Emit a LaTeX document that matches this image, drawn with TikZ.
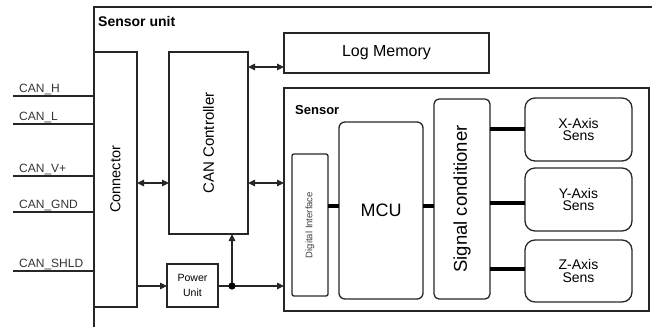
\documentclass[tikz,border=0pt]{standalone}
\usepackage{fontspec}
\setmainfont{Liberation Sans}
\usetikzlibrary{arrows.meta,calc}
\tikzset{
  box/.style={draw=black!85, line width=1.3pt, inner sep=0pt, outer sep=0pt, align=center},
  rbox/.style={box, rounded corners=6pt},
  wire/.style={line width=1.2pt, black!85},
  sig/.style={wire, -{Triangle[length=7pt,width=6.5pt]}},
  dsig/.style={wire, {Triangle[length=7pt,width=6.5pt]}-{Triangle[length=7pt,width=6.5pt]}},
  bus/.style={line width=4pt, black},
  canlbl/.style={anchor=base west, font=\fontsize{12}{12}\selectfont, inner sep=0pt, text=black!80},
  axis/.style={rbox, rounded corners=10pt, minimum width=107, font=\fontsize{14}{12.5}\selectfont},
}
\begin{document}
\begin{tikzpicture}[x=1pt,y=-1pt]
\useasboundingbox (0,0) rectangle (652,327);
% outer sensor unit frame
\coordinate (fbl) at (94,327);
\coordinate (ftl) at (94,7);
\coordinate (ftr) at (652,7);
\draw[line width=1.3pt, black!85] (fbl) -- (ftl) -- (ftr);
\node[anchor=base west, inner sep=0pt, font=\bfseries\fontsize{14}{14}\selectfont] (sulbl) at (98,26) {Sensor unit};

% main blocks
\node[box, minimum width=43, minimum height=255] (conn) at (115.5,179.5) {};
\node[rotate=90, font=\fontsize{14.5}{14.5}\selectfont] at (conn.center) {Connector};
\node[box, minimum width=79, minimum height=182] (cc) at (208.5,143) {};
\node[rotate=90, font=\fontsize{15}{15}\selectfont] at (cc.center) {CAN Controller};
\node[box, minimum width=205, minimum height=40, font=\fontsize{16}{16}\selectfont] (log) at (386.5,53) {Log Memory};
\node[box, minimum width=51, minimum height=43, font=\fontsize{10.5}{15}\selectfont] (pu) at (192.5,285.5) {Power\\Unit};

% sensor
\node[box, minimum width=365, minimum height=223] (sens) at (466.5,199.5) {};
\node[anchor=base west, inner sep=0pt, font=\bfseries\fontsize{13}{13}\selectfont] (senslbl) at (295,114) {Sensor};
\node[box, rounded corners=2pt, minimum width=36, minimum height=142] (di) at (310,225) {};
\node[rotate=90, font=\fontsize{9.5}{9.5}\selectfont, text=black!75] at (di.center) {Digital Interface};
\node[rbox, minimum width=84, minimum height=177, font=\fontsize{18}{18}\selectfont] (mcu) at (381,210.5) {MCU};
\node[rbox, rounded corners=5pt, minimum width=56, minimum height=200] (sc) at (462,199) {};
\node[rotate=90, font=\fontsize{18.5}{18.5}\selectfont] at (sc.center) {Signal conditioner};
\node[axis, minimum height=63] (xs) at (578.5,129.5) {X-Axis\\Sens};
\node[axis, minimum height=63] (ys) at (578.5,199.5) {Y-Axis\\Sens};
\node[axis, minimum height=62] (zs) at (578.5,271) {Z-Axis\\Sens};

% CAN wires
\foreach \nm/\lbl/\yy in {h/CAN\_H/96, l/CAN\_L/124, v/CAN\_V+/176, g/CAN\_GND/212, s/CAN\_SHLD/271}{
  \coordinate (w\nm) at (13,\yy);
  \draw[wire] (w\nm) -- (w\nm -| conn.west);
  \node[canlbl] (l\nm) at (19,\yy-4) {\lbl};
}

% arrows
\coordinate (ya) at (0,183);
\coordinate (ylog) at (0,67);
\coordinate (yp) at (0,286);
\coordinate (dot) at (232,286);
\draw[dsig] (conn.east |- ya) -- (cc.west |- ya);
\draw[dsig] (cc.east |- ya) -- (sens.west |- ya);
\draw[dsig] (cc.east |- ylog) -- (log.west |- ylog);
\draw[sig] (conn.east |- yp) -- (pu.west |- yp);
\draw[wire] (pu.east |- yp) -- (dot);
\draw[sig] (dot) -- (sens.west |- yp);
\draw[sig] (dot) -- (dot |- cc.south);
\fill[black] (dot) circle (3.6pt);

% thick buses
\coordinate (yb) at (0,206);
\coordinate (yx) at (0,129);
\coordinate (yy) at (0,203);
\coordinate (yz) at (0,269);
\draw[bus] (di.east |- yb) -- (mcu.west |- yb);
\draw[bus] (mcu.east |- yb) -- (sc.west |- yb);
\draw[bus] (sc.east |- yx) -- (xs.west |- yx);
\draw[bus] (sc.east |- yy) -- (ys.west |- yy);
\draw[bus] (sc.east |- yz) -- (zs.west |- yz);
\end{tikzpicture}
\end{document}
